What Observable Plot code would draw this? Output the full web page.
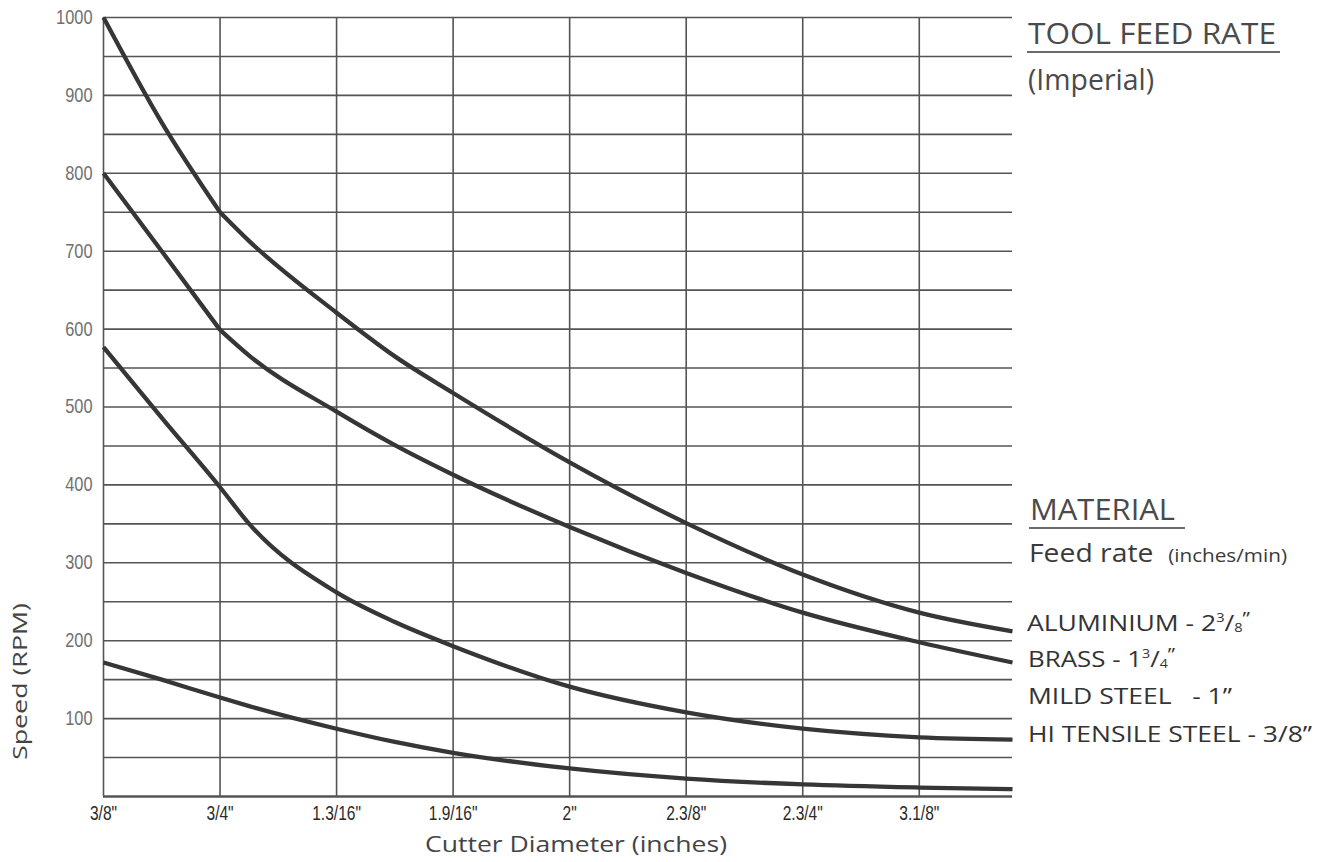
<!DOCTYPE html>
<html><head><meta charset="utf-8">
<script src="https://cdn.jsdelivr.net/npm/d3@7"></script>
<script src="https://cdn.jsdelivr.net/npm/@observablehq/plot@0.6"></script>
<style>
body{margin:0;background:#fff;}
#wrap{position:relative;width:1317px;height:862px;overflow:hidden;background:#fff;}
.t{position:absolute;white-space:nowrap;font-family:"Open Sans",sans-serif;color:#444;line-height:1;transform-origin:0 0;}
.t sup,.t sub{font-size:0.55em;line-height:0;}
.t sup{vertical-align:0.75em;}
.t sub{vertical-align:-0.05em;}
.ul{position:absolute;height:2px;background:#6a6a6a;}
</style></head><body><div id="wrap"></div>
<script>
// ---- data ----
const tickPositions = [0, 1, 2, 3, 4, 5, 6, 7];
const tickLabels = ['3/8"', '3/4"', '1.3/16"', '1.9/16"', '2"', '2.3/8"', '2.3/4"', '3.1/8"'];
const diameterPos = [0, 0.5, 1, 1.25, 2, 2.5, 3, 4, 5, 6, 7, 7.8];
const aluminium = [1000, 865, 750, 713, 621, 565, 518, 429, 351, 285, 236, 212];
const brass     = [800, 700, 599, 566, 494, 451, 413, 346, 287, 236, 198, 172];
const mildSteel = [577, 486, 397, 350, 262, 224, 193, 141, 108, 87, 76, 73];
const hiTensile = [172, 150, 127, 116, 87, 70, 56, 36, 23, 15.5, 11.5, 9.5];
const seriesNames = ["ALUMINIUM", "BRASS", "MILD STEEL", "HI TENSILE STEEL"];
const kinkAtThreeQuarter = [true, true, false, false];
const yTicks = [100, 200, 300, 400, 500, 600, 700, 800, 900, 1000];
const gridY = [50, 100, 150, 200, 250, 300, 350, 400, 450, 500, 550, 600, 650, 700, 750, 800, 850, 900, 950, 1000];

// rows: aluminium and brass are split at 3/4" (visible kink there)
const allSeries = [aluminium, brass, mildSteel, hiTensile];
const rows = [];
allSeries.forEach((vals, s) => {
  vals.forEach((v, i) => {
    if (!kinkAtThreeQuarter[s]) { rows.push({x: diameterPos[i], y: v, seg: seriesNames[s]}); return; }
    if (i <= 2) rows.push({x: diameterPos[i], y: v, seg: seriesNames[s] + "-a"});
    if (i >= 2) rows.push({x: diameterPos[i], y: v, seg: seriesNames[s] + "-b"});
  });
});

const grid = "#545454";
const tickFont = '"Liberation Sans",Arial,sans-serif';
const chart = Plot.plot({
  width: 1317, height: 862,
  marginLeft: 103, marginRight: 305, marginTop: 17, marginBottom: 66,
  x: {domain: [0, 7.8], axis: null},
  y: {domain: [0, 1000], axis: null},
  style: {background: "transparent", overflow: "visible"},
  marks: [
    Plot.ruleY(gridY, {stroke: grid, strokeWidth: 1.6}),
    Plot.ruleY([0], {stroke: grid, strokeWidth: 2.4}),
    Plot.ruleX(tickPositions, {stroke: grid, strokeWidth: 1.6}),
    Plot.line(rows, {x: "x", y: "y", z: "seg", curve: "monotone-x", stroke: "#363636", strokeWidth: 4.3, strokeLinecap: "butt"}),
    Plot.axisY(yTicks, {tickSize: 0, tickPadding: 11, fontSize: 20, fill: "#707070", fontFamily: tickFont,
      tickFormat: d => String(d), label: null}),
    Plot.axisX(tickPositions, {tickSize: 0, tickPadding: 9, fontSize: 21, fill: "#2a2a2a", fontFamily: tickFont,
      tickFormat: d => tickLabels[tickPositions.indexOf(d)], label: null})
  ]
});
// condense the tick label glyphs around their anchor point
function condense(sel, k) {
  chart.querySelectorAll(sel + " text").forEach(t => {
    const tr = t.getAttribute("transform") || "";
    t.setAttribute("transform", (tr + ` scale(${k},1)`).trim());
  });
}
condense('g[aria-label="y-axis tick label"]', 0.82);
condense('g[aria-label="x-axis tick label"]', 0.74);

const wrap = document.getElementById("wrap");
chart.style.position = "absolute";
chart.style.left = "0px";
chart.style.top = "0px";
wrap.appendChild(chart);

// ---- text annotations (layout) ----
function addText(html, left, baseline, size, targetWidth, color, rotate) {
  const d = document.createElement("div");
  d.className = "t";
  d.style.fontSize = size + "px";
  if (color) d.style.color = color;
  d.innerHTML = '<span class="bl" style="display:inline-block;width:0;height:0;vertical-align:baseline"></span>' + html;
  d.style.left = "0px"; d.style.top = "0px";
  wrap.appendChild(d);
  const r = d.getBoundingClientRect();
  const b = d.querySelector(".bl").getBoundingClientRect().top - r.top;
  const s = targetWidth / r.width;
  if (!rotate) {
    d.style.left = left + "px";
    d.style.top = (baseline - b) + "px";
    d.style.transform = `scaleX(${s})`;
  } else {
    d.style.left = (left - b) + "px";
    d.style.top = baseline + "px";
    d.style.transform = `rotate(-90deg) scaleX(${s})`;
  }
  return d;
}
function addRule(left, top, width) {
  const u = document.createElement("div");
  u.className = "ul";
  u.style.left = left + "px"; u.style.top = top + "px"; u.style.width = width + "px";
  wrap.appendChild(u);
}
function draw() {
  addText("TOOL FEED RATE", 1028, 43.5, 30, 248, "#4a4a4a");
  addRule(1027, 50.5, 253);
  addText("(Imperial)", 1028, 90, 30, 126, "#4a4a4a");
  addText("MATERIAL", 1030, 520, 30, 145, "#4a4a4a");
  addRule(1029, 527, 156);
  addText('Feed rate&nbsp;&nbsp;<span style="font-size:19px">(inches/min)</span>', 1029, 562, 26, 258, "#3a3a3a");
  addText('ALUMINIUM - 2<sup>3</sup>/<sub>8</sub><sup style="font-size:0.8em;vertical-align:0.35em">”</sup>', 1027, 631, 22, 223, "#333");
  addText('BRASS - 1<sup>3</sup>/<sub>4</sub><sup style="font-size:0.8em;vertical-align:0.35em">”</sup>', 1028, 667, 22, 147, "#333");
  addText('MILD STEEL&nbsp;&nbsp;&nbsp;- 1”', 1028, 704, 22, 204, "#333");
  addText('HI TENSILE STEEL - 3/8”', 1028, 742, 22, 284, "#333");
  addText('Cutter Diameter (inches)', 425, 852, 22, 302, "#444");
  addText('Speed (RPM)', 27, 760, 20, 157, "#444", true);
}
if (document.fonts && document.fonts.ready) document.fonts.ready.then(draw); else draw();
</script>
</body></html>
